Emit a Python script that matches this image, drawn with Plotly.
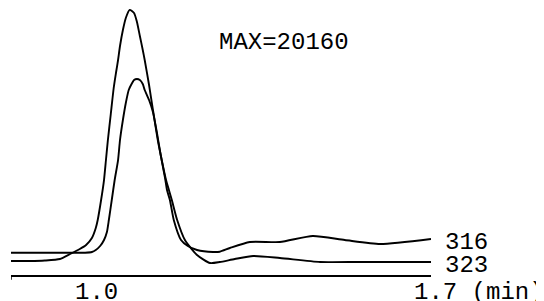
import plotly.graph_objects as go

# Retention time (min) and detector signal for the two wavelengths
t_323 = [0.833, 0.872, 0.903, 0.934, 0.955, 0.975, 0.988, 1.000, 1.008, 1.012,
         1.019, 1.025, 1.029, 1.033, 1.039, 1.045, 1.050, 1.054, 1.058, 1.064,
         1.070, 1.078, 1.087, 1.093, 1.099, 1.105, 1.109, 1.118, 1.126, 1.136,
         1.145, 1.153, 1.159, 1.165, 1.176, 1.192, 1.217, 1.244, 1.264, 1.295,
         1.333, 1.388, 1.471, 1.553, 1.700]
s_323 = [0, 0, 40, 161, 562, 964, 1285, 1847, 2650, 3292,
         4898, 6504, 8110, 9716, 11804, 13892, 15177, 16140, 17265, 18549,
         19513, 20160, 19914, 19192, 18068, 16943, 16140, 14133, 12125, 9716,
         7950, 6504, 5701, 4898, 3292, 1686, 482, -161, -80, 161,
         402, 241, -80, -80, -80]

t_316 = [0.833, 0.913, 0.986, 1.000, 1.008, 1.017, 1.025, 1.031, 1.035, 1.041,
         1.047, 1.054, 1.058, 1.064, 1.070, 1.076, 1.083, 1.087, 1.093, 1.099,
         1.105, 1.109, 1.118, 1.126, 1.134, 1.142, 1.151, 1.155, 1.161, 1.169,
         1.184, 1.198, 1.217, 1.250, 1.264, 1.285, 1.326, 1.388, 1.456, 1.522,
         1.595, 1.700]
s_316 = [666, 666, 666, 723, 883, 1204, 1686, 2329, 3292, 4898,
         6504, 8110, 9716, 11322, 12687, 13731, 14293, 14534, 14615, 14534,
         14213, 13731, 12928, 11965, 10359, 8512, 6665, 5701, 4898, 3292,
         1686, 1204, 883, 723, 747, 1044, 1526, 1526, 2008, 1686,
         1365, 1767]

tick_vals = [1.0, 1.7]
tick_text = ["1.0", "1.7 (min)"]
x_range = [0.833, 1.700]
y_range = [-1124, 20316]
max_label = "MAX=20160"
max_label_pos = (1.396, 17586)

FONT = "Liberation Mono"
FS = 24
fig = go.Figure()
for t, s, name in [(t_323, s_323, "323"), (t_316, s_316, "316")]:
    fig.add_trace(go.Scatter(x=t, y=s, mode="lines", name=name,
                             line=dict(color="black", width=1.9, shape="spline", smoothing=0.6),
                             cliponaxis=False, showlegend=False, hoverinfo="skip"))

for t, s, name in [(t_316, s_316, "316"), (t_323, s_323, "323")]:
    fig.add_annotation(x=t[-1], y=s[-1], text=name, showarrow=False, xanchor="left",
                       yanchor="middle", xshift=12, yshift=-3,
                       font=dict(family=FONT, size=FS, color="black"))

# tick labels placed just under the time axis
for v, txt in zip(tick_vals, tick_text):
    centre = len(txt.split(" ")[0]) / 2
    fig.add_annotation(x=v, y=0, xref="x", yref="paper", text=txt, showarrow=False,
                       xanchor="left", yanchor="middle", yshift=-17,
                       xshift=-centre * 0.6 * FS + 3,
                       font=dict(family=FONT, size=FS, color="black"))

fig.add_annotation(x=max_label_pos[0], y=max_label_pos[1], text=max_label, showarrow=False,
                   xanchor="center", yanchor="middle",
                   font=dict(family=FONT, size=FS, color="black"))

# small end tick at the left end of the time axis
fig.add_shape(type="line", xref="x", yref="paper", x0=x_range[0], x1=x_range[0],
              y0=0, y1=-0.018, line=dict(color="black", width=1.5))

fig.update_layout(
    width=544, height=301,
    margin=dict(l=3, r=121, t=0, b=34, autoexpand=False),
    paper_bgcolor="white", plot_bgcolor="white",
    xaxis=dict(range=x_range, tickvals=tick_vals, showticklabels=False, showgrid=False,
               zeroline=False, showline=True, linecolor="black", linewidth=2,
               ticks="", automargin=False),
    yaxis=dict(range=y_range, visible=False, showgrid=False, zeroline=False, automargin=False),
)
fig.write_html("out.html")
